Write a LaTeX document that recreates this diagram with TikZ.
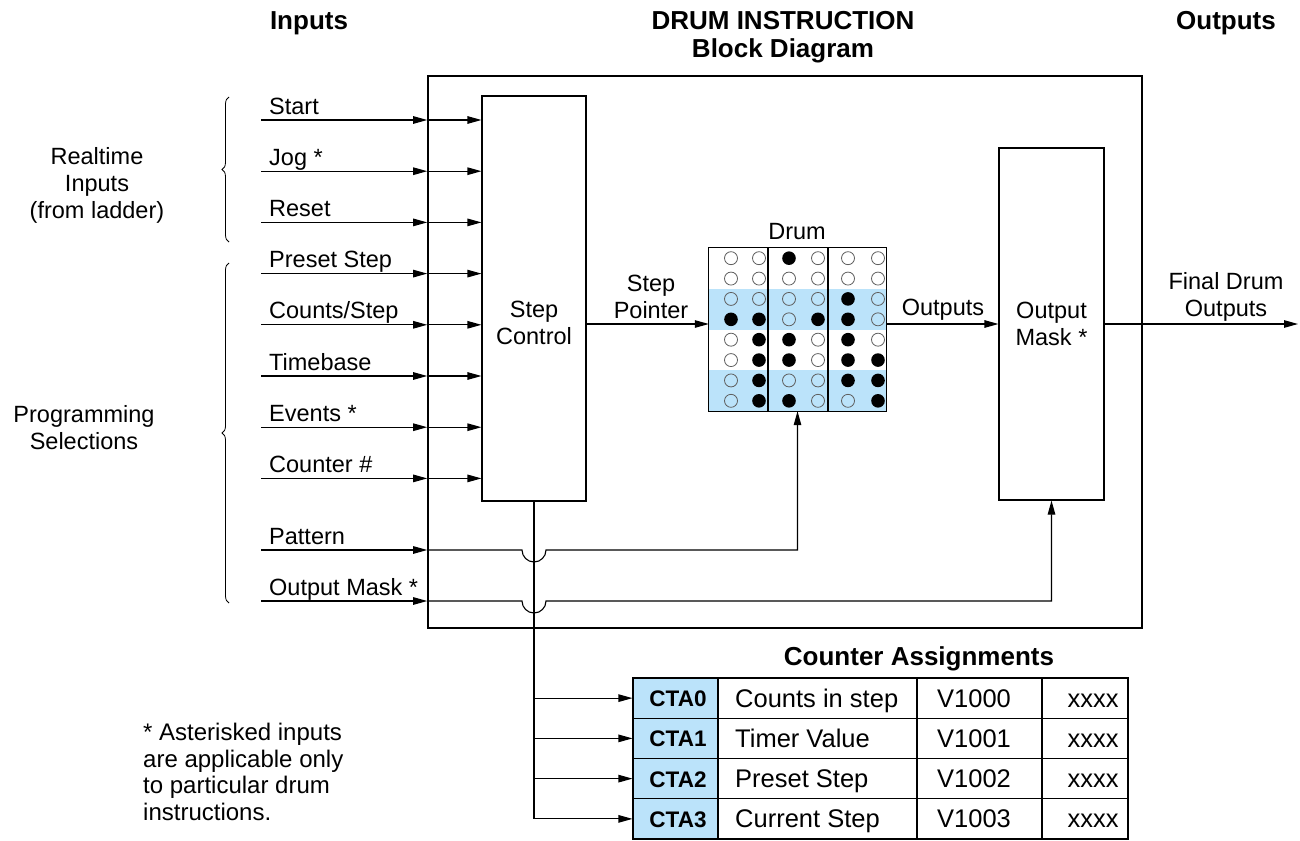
\documentclass[tikz,border=0pt]{standalone}
\usepackage{fontspec}
\setmainfont{Liberation Sans}
\usetikzlibrary{arrows.meta,decorations.pathreplacing,calc}
\definecolor{drumblue}{RGB}{187,227,250}
\definecolor{circgray}{RGB}{95,95,95}
\tikzset{
 lbl/.style={font=\fontsize{23.5}{27}\selectfont, inner sep=0pt, align=center},
 hd/.style={font=\bfseries\fontsize{26}{30}\selectfont, inner sep=0pt, align=center},
 tbl/.style={font=\fontsize{25.5}{30}\selectfont, inner sep=0pt},
 ctatxt/.style={font=\bfseries\fontsize{22.5}{27}\selectfont, inner sep=0pt},
 box/.style={draw, line width=1.1pt, inner sep=0pt},
 arr/.style={line width=1.1pt, -{Triangle[length=14pt,width=7.5pt]}},
 wire/.style={line width=1.1pt},
 cellbox/.style={draw, line width=1.1pt, minimum height=40.25pt, inner sep=0pt},
 ctacell/.style={cellbox, fill=drumblue},
 bracestyle/.style={decorate, decoration={brace, amplitude=7pt}, line width=0.8pt},
}
\begin{document}
\begin{tikzpicture}[x=1pt, y=-1pt]
\useasboundingbox (0,0) rectangle (1300,840);

% titles
\node[hd, anchor=base] (tin) at (309,30) {Inputs};
\node[hd, anchor=base] (tt1) at (783,30) {DRUM INSTRUCTION};
\node[hd, anchor=base] (tt2) at (783,58) {Block Diagram};
\node[hd, anchor=base] (tout) at (1226,30) {Outputs};

% main boxes
\node[box, line width=1.6pt, minimum width=714pt, minimum height=552pt] (outer) at (785,352) {};
\node[box, minimum width=104pt, minimum height=405pt] (stepctl) at (534,298.5) {};
\node[lbl] (steptxt) at (534,323) {Step\\Control};
\node[box, minimum width=105pt, minimum height=352pt, lbl] (mask) at (1051.5,324) {Output\\Mask *};

% side labels and braces
\node[lbl] (rt) at (97,185) {Realtime\\Inputs\\(from ladder)};
\node[lbl] (ps) at (84,428) {Programming\\Selections};
\coordinate (b1a) at (229,242);
\coordinate (b1b) at (229,97);
\coordinate (b2a) at (229,603);
\coordinate (b2b) at (229,263);
\draw[bracestyle] (b1a) -- (b1b);
\draw[bracestyle] (b2a) -- (b2b);

% drum
\node[minimum width=177pt, minimum height=163pt, inner sep=0pt] (drum) at (797.5,329.5) {};
\fill[drumblue] (709,288.75) rectangle (886,329.5);
\fill[drumblue] (709,370.25) rectangle (886,411);
\foreach \row/\pat in {1/{0,0,1,0,0,0},2/{0,0,0,0,0,0},3/{0,0,0,0,1,0},4/{1,1,0,1,1,0},5/{0,1,1,0,1,0},6/{0,1,1,0,1,1},7/{0,1,0,0,1,1},8/{0,1,1,0,0,1}}{
  \foreach \v [count=\c from 0] in \pat {
    \pgfmathsetmacro{\cx}{{731,759,789,818,848,878}[\c]}
    \pgfmathsetmacro{\cy}{248+20.375*(\row-0.5)}
    \ifnum\v=1
      \fill (\cx,\cy) circle[radius=6.8pt];
    \else
      \draw[circgray, line width=0.8pt] (\cx,\cy) circle[radius=6.5pt];
    \fi
  }
}
\draw[wire] (drum.north west) rectangle (drum.south east);
\draw[wire] (768,248) -- (768,411);
\draw[wire] (828,248) -- (828,411);
\node[lbl] (drumtxt) at (797,232) {Drum};

% main signal axis
\coordinate (axis) at (0,324);
\coordinate (fout) at (1298,324);
\draw[arr] (stepctl.east |- axis) -- (drum.west |- axis);
\node[lbl] (sptxt) at (651,297) {Step\\Pointer};
\draw[arr] (drum.east |- axis) -- (mask.west |- axis);
\node[lbl] (outtxt) at (943,310) {Outputs};
\draw[arr] (mask.east |- axis) -- (fout);
\node[lbl] (fdtxt) at (1226,297) {Final Drum\\Outputs};

% inputs to step control
\foreach \nm/\yy/\t in {inA/120/{Start}, inB/171.2/{Jog *}, inC/222.4/{Reset}, inD/273.6/{Preset Step}, inE/324.8/{Counts/Step}, inF/376/{Timebase}, inG/427.2/{Events *}, inH/478.4/{Counter \#}}{
  \coordinate (\nm) at (261,\yy);
  \node[lbl, anchor=base west] (\nm-t) at (269,\yy-6) {\t};
  \draw[arr] (\nm) -- (\nm -| outer.west);
  \draw[arr] (\nm -| outer.west) -- (\nm -| stepctl.west);
}

% pattern and output mask inputs
\coordinate (inI) at (261,550);
\coordinate (inJ) at (261,601);
\node[lbl, anchor=base west] (inI-t) at (269,544) {Pattern};
\node[lbl, anchor=base west] (inJ-t) at (269,595) {Output Mask *};
\draw[arr] (inI) -- (inI -| outer.west);
\draw[arr] (inJ) -- (inJ -| outer.west);
\draw[arr] (inI -| outer.west) -- ($(inI -| stepctl.south)+(-12,0)$)
   arc[start angle=180, end angle=360, radius=12pt] -- (inI -| drum.south) -- (drum.south);
\draw[arr] (inJ -| outer.west) -- ($(inJ -| stepctl.south)+(-12,0)$)
   arc[start angle=180, end angle=360, radius=12pt] -- (inJ -| mask.south) -- (mask.south);

% counter table
\node[hd, anchor=base] (cttl) at (919,665) {Counter Assignments};
\foreach \i/\yy/\d/\vv in {0/698.125/{Counts in step}/V1000, 1/738.375/{Timer Value}/V1001, 2/778.625/{Preset Step}/V1002, 3/818.875/{Current Step}/V1003}{
  \node[ctacell, minimum width=85pt] (cta\i) at (675.5,\yy) {};
  \node[cellbox, minimum width=199pt] (desc\i) at (817.5,\yy) {};
  \node[cellbox, minimum width=125pt] (vv\i) at (979.5,\yy) {};
  \node[cellbox, minimum width=86pt] (xx\i) at (1085,\yy) {};
  \node[ctatxt, anchor=base] (cta\i-t) at (678,\yy+8.5) {CTA\i};
  \node[tbl, anchor=base west] (desc\i-t) at (735,\yy+9) {\d};
  \node[tbl, anchor=base] (vv\i-t) at (974,\yy+9) {\vv};
  \node[tbl, anchor=base] (xx\i-t) at (1093,\yy+9) {xxxx};
}
\draw[wire] (stepctl.south) -- (stepctl.south |- cta3.west);
\foreach \i in {0,1,2,3}{
  \draw[arr] (stepctl.south |- cta\i.west) -- (cta\i.west);
}

% footnote
\node[lbl, align=left, anchor=west, font=\fontsize{24}{26.7}\selectfont] (note) at (143,772) {* Asterisked inputs\\are applicable only\\to particular drum\\instructions.};
\end{tikzpicture}
\end{document}
